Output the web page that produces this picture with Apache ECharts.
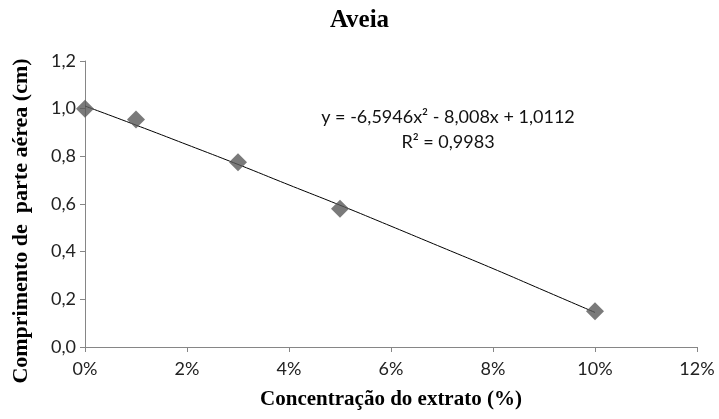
<!DOCTYPE html>
<html>
<head>
<meta charset="utf-8">
<script src="https://cdn.jsdelivr.net/npm/echarts@6/dist/echarts.min.js"></script>
<style>
  html, body { margin: 0; padding: 0; background: #fff; }
  #chart { width: 719px; height: 419px; }
</style>
</head>
<body>
<div id="chart"></div>
<script>
// measured points (x in %)
const concentracao = [0, 1, 3, 5, 10]
const comprimento = [1.0, 0.955, 0.775, 0.58, 0.15]

// trend line
const trendX = [0, 1, 2, 3, 4, 5, 6, 7, 8, 9, 10]
const trendY = [1.011, 0.931, 0.849, 0.766, 0.680, 0.595, 0.507, 0.418, 0.329, 0.237, 0.145]

const equationText = 'y = -6,5946x\u00B2 - 8,008x + 1,0112'
const r2Text = 'R\u00B2 = 0,9983'

const chart = echarts.init(document.getElementById('chart'))

const axisGray = '#868686'
const labelFont = 'Lato, "Open Sans", sans-serif'
const serifFont = '"Liberation Serif", "DejaVu Serif", serif'

const option = {
  animation: false,
  title: {
    text: 'Aveia',
    left: 'center',
    top: 3,
    textStyle: { fontFamily: serifFont, fontWeight: 'bold', fontSize: 25, color: '#000' }
  },
  grid: { left: 85, right: 22, top: 61, bottom: 72, outerBoundsMode: 'none', containLabel: false },
  xAxis: {
    type: 'value',
    min: 0, max: 12, interval: 2,
    name: 'Concentração do extrato (%)',
    nameLocation: 'middle',
    nameGap: 42,
    nameTextStyle: { fontFamily: serifFont, fontWeight: 'bold', fontSize: 21, color: '#000' },
    axisLine: { lineStyle: { color: axisGray } },
    axisTick: { show: true, length: 5, lineStyle: { color: axisGray } },
    splitLine: { show: false },
    axisLabel: { formatter: '{value}%', fontFamily: labelFont, fontSize: 18, color: '#222', margin: 13 }
  },
  yAxis: {
    type: 'value',
    min: 0, max: 1.2, interval: 0.2,
    name: 'Comprimento de  parte aérea (cm)',
    nameLocation: 'middle',
    nameGap: 53,
    nameTextStyle: {
      fontFamily: serifFont, fontWeight: 'bold', fontSize: 22, color: '#000',
      padding: [0, 34, 0, 0]
    },
    axisLine: { show: true, lineStyle: { color: axisGray } },
    axisTick: { show: true, length: 5, lineStyle: { color: axisGray } },
    splitLine: { show: false },
    axisLabel: {
      formatter: v => v.toFixed(1).replace('.', ','),
      fontFamily: labelFont, fontSize: 18, color: '#222', margin: 9
    }
  },
  graphic: [
    {
      type: 'text', x: 448, y: 117,
      style: { text: equationText, fontFamily: labelFont, fontSize: 18, fill: '#111', align: 'center', verticalAlign: 'middle' }
    },
    {
      type: 'text', x: 448, y: 142,
      style: { text: r2Text, fontFamily: labelFont, fontSize: 18, fill: '#111', align: 'center', verticalAlign: 'middle' }
    }
  ],
  series: [
    {
      type: 'line',
      data: trendX.map((x, i) => [x, trendY[i]]),
      smooth: true,
      symbol: 'none',
      lineStyle: { color: '#000', width: 1 },
      z: 2
    },
    {
      type: 'scatter',
      data: concentracao.map((x, i) => [x, comprimento[i]]),
      symbol: 'diamond',
      symbolSize: [18, 18],
      itemStyle: { color: '#595959' },
      z: 3
    }
  ]
}

chart.setOption(option)
</script>
</body>
</html>
